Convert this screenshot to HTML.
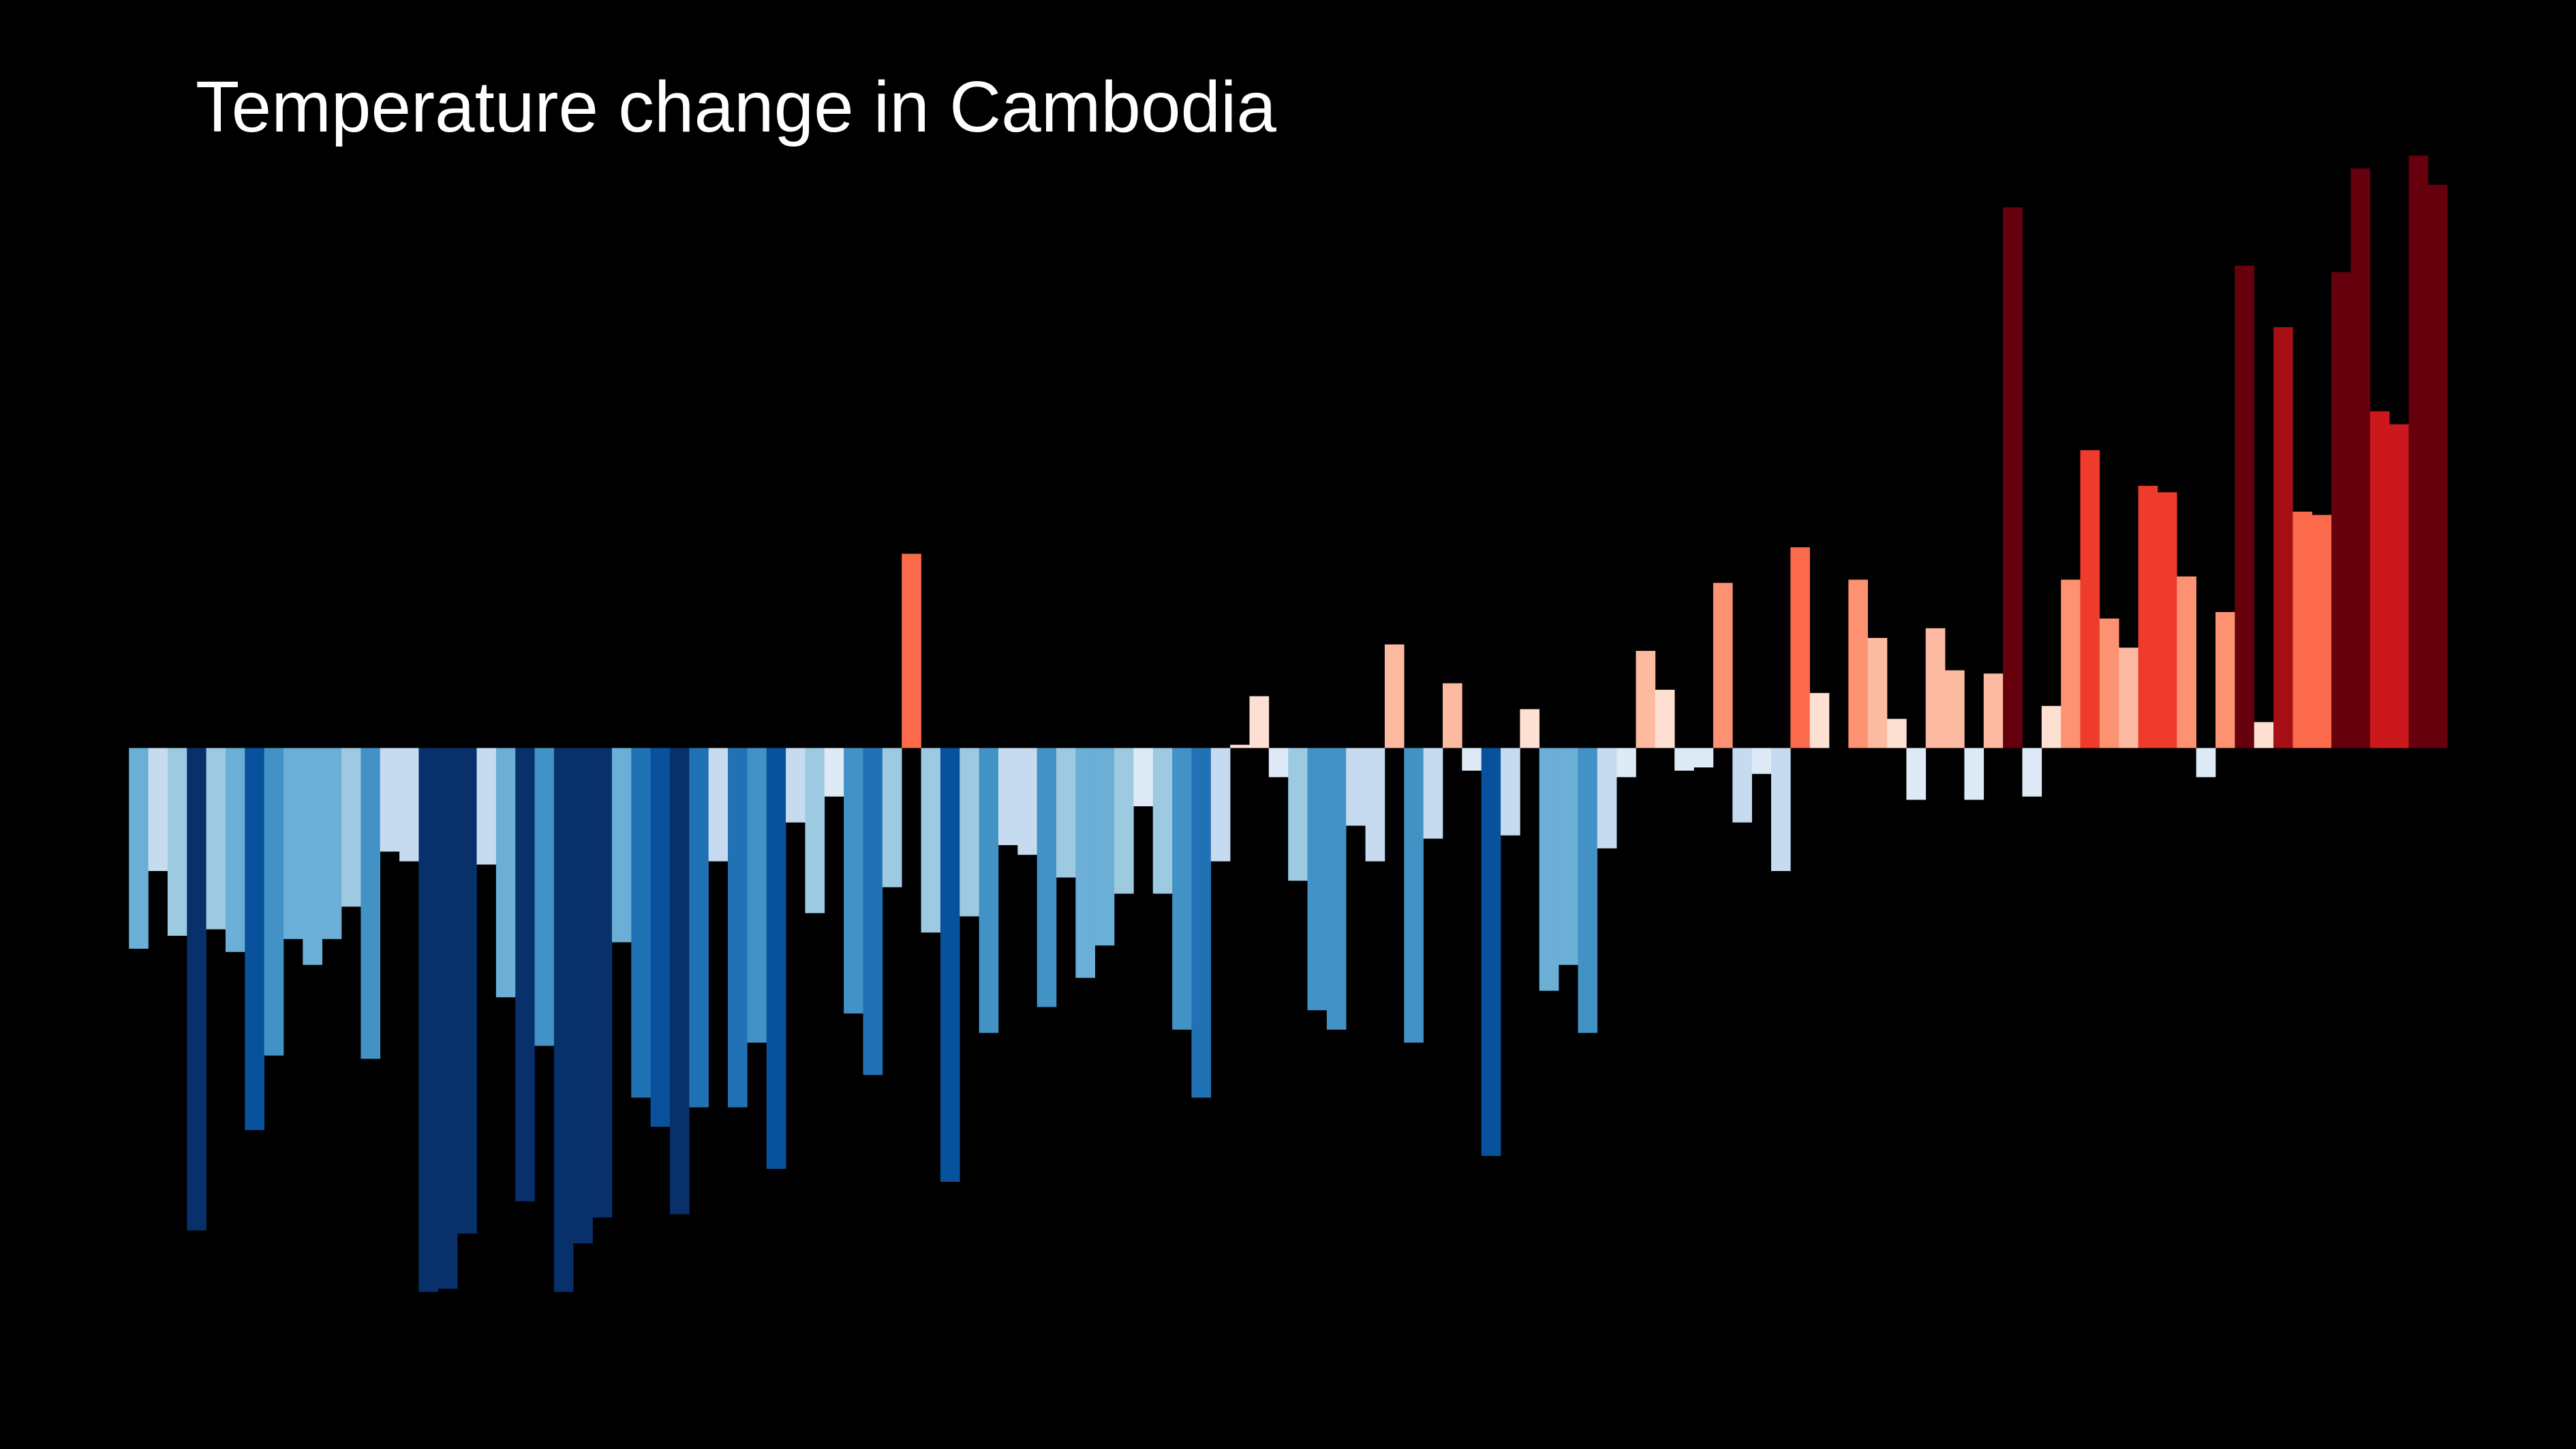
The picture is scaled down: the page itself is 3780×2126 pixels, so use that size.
<!DOCTYPE html>
<html><head><meta charset="utf-8">
<style>
html,body{margin:0;padding:0;background:#000;}
svg{display:block;}
</style></head>
<body>
<svg id="chart" width="3780" height="2126" viewBox="0 0 3780 2126" xmlns="http://www.w3.org/2000/svg">
<rect x="0" y="0" width="3780" height="2126" fill="#000"/>
<text x="287" y="193" font-family="Liberation Sans, sans-serif" font-size="106" fill="#fff" textLength="1586" lengthAdjust="spacingAndGlyphs">Temperature change in Cambodia</text>
<g id="bars"></g>
</svg>
<script>
const startYear = 1901;
const anomalies = [
-0.62,-0.38,-0.58,-1.49,-0.56,-0.63,-1.18,-0.95,-0.59,-0.67,
-0.59,-0.49,-0.96,-0.32,-0.35,-1.68,-1.67,-1.50,-0.36,-0.77,
-1.40,-0.92,-1.68,-1.53,-1.45,-0.60,-1.08,-1.17,-1.44,-1.11,
-0.35,-1.11,-0.91,-1.30,-0.23,-0.51,-0.15,-0.82,-1.01,-0.43,
0.60,-0.57,-1.34,-0.52,-0.88,-0.30,-0.33,-0.80,-0.40,-0.71,
-0.61,-0.45,-0.18,-0.45,-0.87,-1.08,-0.35,0.01,0.16,-0.09,
-0.41,-0.81,-0.87,-0.24,-0.35,0.32,-0.91,-0.28,0.20,-0.07,
-1.26,-0.27,0.12,-0.75,-0.67,-0.88,-0.31,-0.09,0.30,0.18,
-0.07,-0.06,0.51,-0.23,-0.08,-0.38,0.62,0.17,0.00,0.52,
0.34,0.09,-0.16,0.37,0.24,-0.16,0.23,1.67,-0.15,0.13,
0.52,0.92,0.40,0.31,0.81,0.79,0.53,-0.09,0.42,1.49,
0.08,1.30,0.73,0.72,1.47,1.79,1.04,1.00,1.83,1.74
];
const colorThresholds = [0.19,0.39,0.585,0.78,0.98,1.15,1.37];
const blues = ["#deebf7","#c6dbef","#9ecae1","#6baed6","#4292c6","#2171b5","#08519c","#08306b"];
const reds  = ["#fee0d2","#fcbba1","#fc9272","#fb6a4a","#ef3b2c","#cb181d","#a50f15","#67000d"];

const X0 = 189.2, BW = 28.35, Y0 = 1097.5, PX_PER_DEG = 475;
function xScale(i){ return X0 + i*BW; }
function yScale(v){ return Y0 - v*PX_PER_DEG; }
function colorFor(v){
  const a = Math.abs(v);
  let k = 0;
  while (k < colorThresholds.length && a >= colorThresholds[k]) k++;
  return v >= 0 ? reds[k] : blues[k];
}
const g = document.getElementById('bars');
const NS = "http://www.w3.org/2000/svg";
anomalies.forEach((v, i) => {
  if (v === 0) return;
  const r = document.createElementNS(NS, 'rect');
  const y1 = yScale(v), y2 = yScale(0);
  r.setAttribute('x', xScale(i).toFixed(2));
  r.setAttribute('width', (BW + 0.3).toFixed(2));
  r.setAttribute('y', Math.min(y1, y2).toFixed(2));
  r.setAttribute('height', Math.abs(y2 - y1).toFixed(2));
  r.setAttribute('fill', colorFor(v));
  
  
  g.appendChild(r);
});
</script>
</body></html>
